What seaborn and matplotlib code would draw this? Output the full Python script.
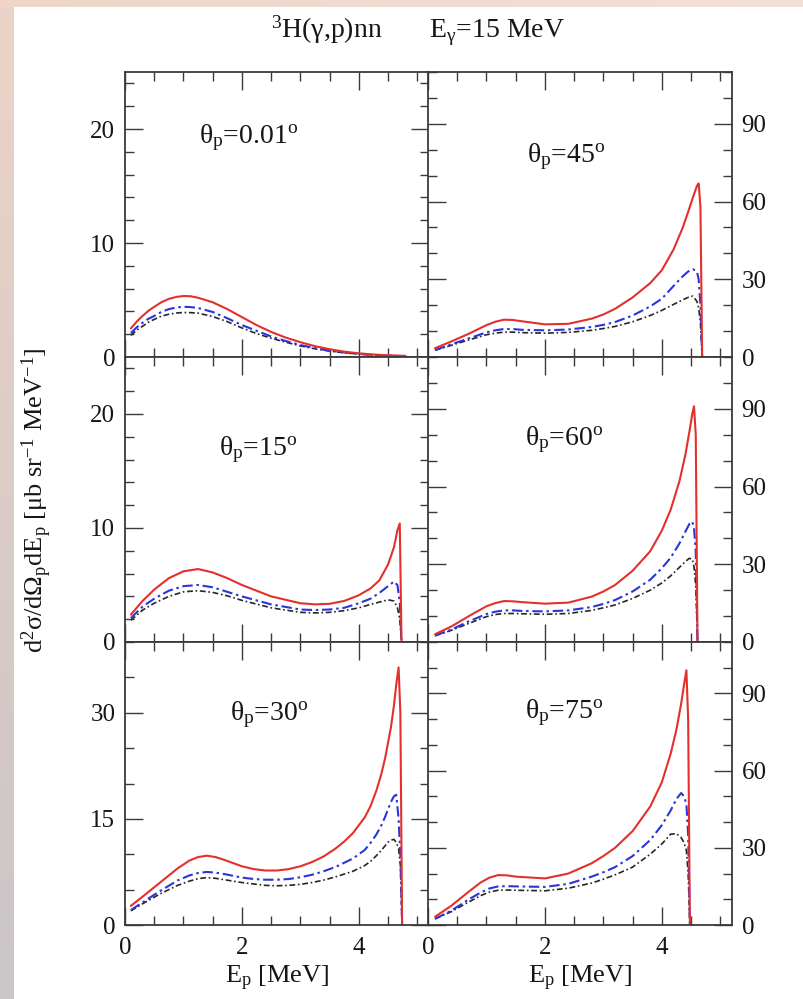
import numpy as np
import pandas as pd
import matplotlib
matplotlib.use("Agg")
import matplotlib.pyplot as plt
import seaborn as sns
from matplotlib.ticker import MultipleLocator

# ---------------- data ----------------
E_00 = [0.1, 0.2, 0.3, 0.4, 0.5, 0.62, 0.75, 0.88, 1.0, 1.12, 1.25, 1.5, 1.75, 2.0, 2.25, 2.5, 2.75, 3.0, 3.25, 3.5, 3.75, 4.0, 4.25, 4.5, 4.8]
red_00 = [2.5, 3.1, 3.6, 4.05, 4.4, 4.8, 5.1, 5.27, 5.35, 5.33, 5.2, 4.8, 4.2, 3.5, 2.8, 2.2, 1.7, 1.3, 0.95, 0.68, 0.47, 0.32, 0.22, 0.15, 0.1]
blue_00 = [2.1, 2.6, 3.0, 3.35, 3.6, 3.95, 4.2, 4.35, 4.4, 4.38, 4.3, 3.95, 3.4, 2.8, 2.3, 1.8, 1.4, 1.05, 0.78, 0.55, 0.4, 0.27, 0.18, 0.12, 0.08]
black_00 = [1.9, 2.35, 2.7, 3.05, 3.3, 3.58, 3.75, 3.86, 3.9, 3.89, 3.85, 3.55, 3.1, 2.55, 2.05, 1.65, 1.3, 0.97, 0.72, 0.52, 0.37, 0.26, 0.17, 0.12, 0.08]

E_15 = [0.1, 0.3, 0.5, 0.75, 1.0, 1.25, 1.5, 1.75, 2.0, 2.5, 3.0, 3.25, 3.5, 3.75, 4.0, 4.2, 4.35, 4.5, 4.6, 4.66, 4.7, 4.73]
red_15 = [2.4, 3.6, 4.6, 5.6, 6.2, 6.4, 6.1, 5.6, 5.0, 4.0, 3.4, 3.3, 3.35, 3.6, 4.1, 4.7, 5.4, 6.8, 8.3, 9.8, 10.4, 0.0]
blue_15 = [2.1, 3.1, 3.8, 4.5, 4.9, 5.0, 4.8, 4.4, 4.0, 3.3, 2.85, 2.8, 2.85, 3.0, 3.4, 3.8, 4.3, 4.9, 5.3, 5.0, 3.5, 0.0]
black_15 = [1.9, 2.8, 3.4, 4.0, 4.4, 4.5, 4.35, 4.05, 3.65, 3.0, 2.6, 2.55, 2.6, 2.75, 3.0, 3.3, 3.5, 3.7, 3.6, 3.0, 2.0, 0.0]

E_30 = [0.1, 0.3, 0.6, 0.9, 1.1, 1.25, 1.4, 1.55, 1.7, 2.0, 2.2, 2.4, 2.6, 2.8, 3.0, 3.2, 3.4, 3.6, 3.75, 3.9, 4.1, 4.2, 4.3, 4.38, 4.45, 4.5, 4.55, 4.6, 4.64, 4.68, 4.71, 4.74]
red_30 = [2.7, 4.0, 6.0, 8.0, 9.1, 9.6, 9.8, 9.6, 9.2, 8.3, 7.9, 7.7, 7.7, 7.9, 8.3, 8.9, 9.7, 10.8, 11.8, 13.0, 15.2, 16.8, 19.0, 21.2, 23.6, 25.8, 28.0, 31.0, 34.0, 36.4, 30.0, 0.0]
blue_30 = [2.1, 3.2, 4.8, 6.3, 7.0, 7.35, 7.5, 7.4, 7.2, 6.7, 6.5, 6.4, 6.4, 6.5, 6.75, 7.1, 7.6, 8.2, 8.8, 9.4, 10.6, 11.6, 12.8, 14.0, 15.3, 16.4, 17.4, 18.2, 18.4, 15.0, 10.0, 0.0]
black_30 = [2.0, 3.0, 4.4, 5.6, 6.2, 6.55, 6.7, 6.6, 6.4, 6.0, 5.8, 5.6, 5.55, 5.6, 5.75, 6.0, 6.35, 6.8, 7.2, 7.6, 8.4, 9.0, 9.8, 10.5, 11.2, 11.7, 12.0, 12.1, 11.7, 10.8, 8.5, 0.0]

E_45 = [0.12, 0.4, 0.7, 1.0, 1.15, 1.3, 1.45, 1.6, 2.0, 2.4, 2.8, 3.0, 3.2, 3.5, 3.8, 4.0, 4.2, 4.35, 4.45, 4.53, 4.6, 4.63, 4.66, 4.69]
red_45 = [3.4, 6.0, 9.0, 12.3, 13.6, 14.4, 14.3, 13.8, 12.6, 12.8, 14.8, 16.4, 18.6, 23.0, 28.5, 33.5, 41.5, 49.5, 56.0, 61.5, 66.0, 67.0, 58.0, 0.0]
blue_45 = [2.7, 4.9, 7.2, 9.5, 10.3, 10.8, 10.8, 10.5, 10.3, 10.6, 11.6, 12.4, 13.5, 16.0, 19.5, 22.5, 27.4, 31.0, 33.0, 33.9, 33.0, 30.0, 20.0, 0.0]
black_45 = [2.6, 4.5, 6.6, 8.6, 9.2, 9.6, 9.6, 9.4, 9.2, 9.5, 10.3, 11.0, 11.8, 13.6, 16.0, 18.0, 20.3, 22.0, 23.0, 23.5, 21.5, 19.0, 13.0, 0.0]

E_60 = [0.12, 0.4, 0.7, 1.0, 1.15, 1.3, 1.45, 1.6, 2.0, 2.4, 2.8, 3.0, 3.2, 3.5, 3.8, 4.0, 4.15, 4.3, 4.4, 4.47, 4.52, 4.55, 4.58, 4.61]
red_60 = [3.0, 6.0, 10.0, 13.8, 15.0, 15.8, 15.7, 15.4, 14.8, 15.2, 17.5, 19.5, 22.0, 27.5, 35.0, 43.0, 51.0, 62.0, 72.0, 81.0, 88.0, 91.0, 80.0, 0.0]
blue_60 = [2.5, 4.8, 8.0, 10.8, 11.7, 12.2, 12.2, 12.0, 11.8, 12.2, 13.5, 14.7, 16.2, 19.5, 24.0, 28.5, 32.5, 38.0, 42.5, 45.5, 46.5, 44.0, 35.0, 0.0]
black_60 = [2.4, 4.5, 7.2, 9.8, 10.6, 11.0, 11.0, 10.9, 10.7, 11.0, 12.2, 13.2, 14.3, 16.8, 20.0, 22.8, 25.5, 28.8, 31.0, 32.3, 32.0, 29.0, 22.0, 0.0]

E_75 = [0.12, 0.4, 0.7, 0.9, 1.05, 1.2, 1.35, 1.5, 2.0, 2.4, 2.8, 3.0, 3.2, 3.5, 3.8, 4.0, 4.15, 4.25, 4.33, 4.38, 4.42, 4.45, 4.48]
red_75 = [3.2, 7.5, 13.0, 16.5, 18.4, 19.4, 19.3, 18.8, 18.1, 20.0, 24.0, 26.8, 30.0, 36.5, 46.0, 55.5, 66.5, 76.0, 86.0, 93.5, 99.0, 80.0, 0.0]
blue_75 = [2.4, 5.6, 10.0, 12.6, 14.2, 15.0, 15.1, 15.0, 14.8, 16.0, 18.8, 20.5, 22.5, 26.8, 33.0, 38.8, 44.5, 49.0, 51.3, 50.0, 47.0, 35.0, 0.0]
black_75 = [2.4, 5.2, 9.0, 11.4, 12.8, 13.5, 13.6, 13.5, 13.3, 14.3, 16.3, 17.8, 19.5, 22.5, 27.5, 31.5, 35.3, 35.5, 34.0, 32.0, 29.0, 20.0, 0.0]

panel_data = {
    "0.01": (E_00, red_00, blue_00, black_00),
    "15": (E_15, red_15, blue_15, black_15),
    "30": (E_30, red_30, blue_30, black_30),
    "45": (E_45, red_45, blue_45, black_45),
    "60": (E_60, red_60, blue_60, black_60),
    "75": (E_75, red_75, blue_75, black_75),
}

# ---------------- style ----------------
sns.set_theme(style="ticks", context="paper")
plt.rcParams["font.family"] = ["Liberation Serif", "DejaVu Serif"]
plt.rcParams["mathtext.fontset"] = "custom"
plt.rcParams["mathtext.rm"] = "Liberation Serif"
plt.rcParams["mathtext.it"] = "Liberation Serif:italic"
plt.rcParams["mathtext.default"] = "rm"

W, H = 804, 999
fig = plt.figure(figsize=(W / 100, H / 100), dpi=100)
fig.patch.set_facecolor("white")

# decorative slide background border
bg = np.ones((H, W, 3))
yy = np.linspace(0, 1, H)[:, None]
xx = np.linspace(0, 1, W)[None, :]
left_top = np.array([236, 211, 198]) / 255
left_bot = np.array([203, 197, 199]) / 255
top_l = np.array([238, 213, 200]) / 255
top_r = np.array([243, 224, 215]) / 255
lb = 14
tb = 7
left_col = left_top[None, :] * (1 - yy) + left_bot[None, :] * yy
bg[:, :lb, :] = left_col[:, None, :]
top_row = top_l[None, :] * (1 - xx.T) + top_r[None, :] * xx.T
bg[:tb, :, :] = top_row[None, :, :]
ax_bg = fig.add_axes([0, 0, 1, 1], zorder=-10)
ax_bg.imshow(bg, aspect="auto", extent=(0, 1, 0, 1), interpolation="bilinear")
ax_bg.set_axis_off()

colx = [125, 428]
axw = 304
rows = [(72, 357), (357, 642), (642, 925)]
layout = [["0.01", "45"], ["15", "60"], ["30", "75"]]

c_red = "#e3302c"
c_blue = "#2a35d8"
c_black = "#262626"
frame = "#3a3a3a"
txt = "#161616"

label_pos = {
    "0.01": (0.245, 0.752),
    "45": (0.325, 0.685),
    "15": (0.31, 0.655),
    "60": (0.32, 0.69),
    "30": (0.345, 0.724),
    "75": (0.32, 0.731),
}

for r in range(3):
    for c in range(2):
        top, bot = rows[r]
        ax = fig.add_axes([colx[c] / W, 1 - bot / H, axw / W, (bot - top) / H])
        ax.set_facecolor("white")
        key = layout[r][c]
        E, red, blue, black = panel_data[key]
        sns.lineplot(x=E, y=black, ax=ax, color=c_black, linewidth=1.2,
                     linestyle=(0, (3.5, 1.6, 1.0, 1.6)), estimator=None, sort=False)
        sns.lineplot(x=E, y=blue, ax=ax, color=c_blue, linewidth=1.5,
                     linestyle=(0, (5, 1.8, 1.2, 1.8)), estimator=None, sort=False)
        sns.lineplot(x=E, y=red, ax=ax, color=c_red, linewidth=1.5,
                     linestyle="-", estimator=None, sort=False)
        ax.set_xlim(0, 5.2)
        if c == 0:
            if r < 2:
                ax.set_ylim(0, 25)
                ax.yaxis.set_major_locator(MultipleLocator(10))
                ax.yaxis.set_minor_locator(MultipleLocator(2))
            else:
                ax.set_ylim(0, 40)
                ax.yaxis.set_major_locator(MultipleLocator(15))
                ax.yaxis.set_minor_locator(MultipleLocator(5))
        else:
            ax.set_ylim(0, 110)
            ax.yaxis.set_major_locator(MultipleLocator(30))
            ax.yaxis.set_minor_locator(MultipleLocator(10))
        ax.xaxis.set_major_locator(MultipleLocator(2))
        ax.xaxis.set_minor_locator(MultipleLocator(0.5))
        ax.tick_params(which="both", direction="in", top=True, bottom=True,
                       left=True, right=True, color=frame, labelcolor=txt,
                       labelsize=18, width=1.0)
        ax.tick_params(which="major", length=13, pad=7)
        ax.tick_params(which="minor", length=6.5)
        ax.tick_params(axis="x", pad=9)
        ax.tick_params(labelleft=(c == 0), labelright=(c == 1),
                       labelbottom=(r == 2))
        for sp in ax.spines.values():
            sp.set_color(frame)
            sp.set_linewidth(1.3)
        ax.set_ylabel("")
        if r == 2:
            ax.set_xlabel("E$_{p}$ [MeV]", fontsize=19, color=txt, labelpad=3)
        else:
            ax.set_xlabel("")
        lx, ly = label_pos[key]
        ax.text(lx, ly, "θ$_{p}$=" + key + "$^{o}$", transform=ax.transAxes,
                fontsize=20, color=txt, ha="left", va="baseline")

fig.text(37 / W, 1 - 500 / H,
         "d$^{2}$σ/dΩ$_{p}$dE$_{p}$ [μb sr$^{-1}$ MeV$^{-1}$]",
         rotation=90, ha="center", va="center", fontsize=19, color=txt)
fig.text(418 / W, 1 - 38 / H,
         "$^{3}$H(γ,p)nn       E$_{γ}$=15 MeV",
         ha="center", va="baseline", fontsize=20, color=txt)

fig.savefig("out.png", dpi=100)
